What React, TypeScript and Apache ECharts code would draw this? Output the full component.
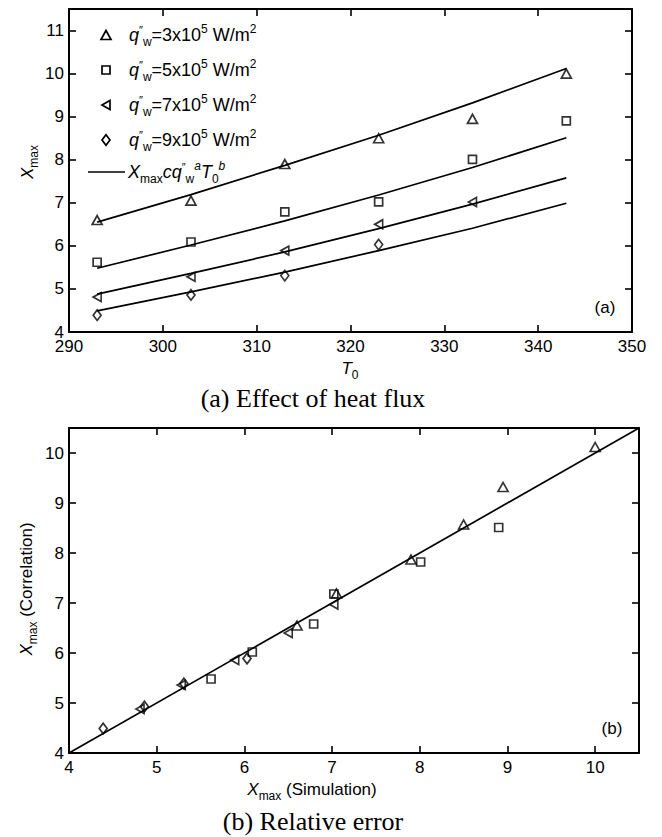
import React, { useEffect, useRef } from "react";
import * as echarts from "echarts";

// ---------- data ----------
const T0 = [293, 303, 313, 323, 333, 343];
// simulated X_max (markers)
const q3Sim = [6.6, 7.05, 7.9, 8.5, 8.95, 10.0];
const q5Sim = [5.62, 6.09, 6.79, 7.02, 8.01, 8.9];
const q7Sim = [4.81, 5.28, 5.89, 6.5, 7.02];
const q9Sim = [4.39, 4.86, 5.31, 6.03];
// correlation X_max = c q''w^a T0^b (lines)
const q3Fit = [6.55, 7.19, 7.87, 8.57, 9.32, 10.12];
const q5Fit = [5.48, 6.02, 6.58, 7.18, 7.82, 8.51];
const q7Fit = [4.88, 5.36, 5.86, 6.4, 6.97, 7.58];
const q9Fit = [4.49, 4.93, 5.39, 5.89, 6.41, 6.99];
const heatFlux = ["3", "5", "7", "9"];
const diagonal = [4, 10.5];

const SANS = "'Liberation Sans', Arial, Helvetica, sans-serif";
const SERIF = "'Liberation Serif', 'Times New Roman', serif";

const markers = [
  { symbol: "triangle", size: [10, 9], rotate: 0 },
  { symbol: "rect", size: [8, 8], rotate: 0 },
  { symbol: "triangle", size: [9, 8], rotate: 90 },
  { symbol: "diamond", size: [8, 10.5], rotate: 0 },
];

const simSets = [q3Sim, q5Sim, q7Sim, q9Sim];
const fitSets = [q3Fit, q5Fit, q7Fit, q9Fit];
const STROKE = 1.7;

function richStyles(main: number, small: number) {
  return {
    n: { fontSize: main, fontFamily: SANS, fill: "#000" },
    i: { fontSize: main, fontFamily: SANS, fontStyle: "italic", fill: "#000" },
    sub: { fontSize: small, fontFamily: SANS, fill: "#000", padding: [14, 0, 0, 0] },
    sup: { fontSize: small, fontFamily: SANS, fill: "#000", padding: [0, 0, 12, 0] },
    supi: { fontSize: small, fontFamily: SANS, fontStyle: "italic", fill: "#000", padding: [0, 0, 12, 0] },
    pr: { fontSize: small - 1, fontFamily: SANS, fill: "#000", padding: [0, 0, 10, 0] },
  };
}

function txt(x: number, y: number, text: string, opts: any = {}) {
  return {
    type: "text",
    x,
    y,
    rotation: opts.rotation || 0,
    silent: true,
    style: {
      text,
      x: 0,
      y: 0,
      fill: "#000",
      fontSize: opts.fontSize || 17,
      fontFamily: opts.fontFamily || SANS,
      align: opts.align || "center",
      verticalAlign: "middle",
      textAlign: opts.align || "center",
      textVerticalAlign: "middle",
      rich: opts.rich,
    },
  };
}

function legendMarker(kind: number, cx: number, cy: number) {
  const st = { fill: "none", stroke: "#000", lineWidth: STROKE };
  const [w, h] = markers[kind].size;
  if (kind === 0)
    return { type: "polygon", silent: true, shape: { points: [[cx, cy - h / 2], [cx - w / 2, cy + h / 2], [cx + w / 2, cy + h / 2]] }, style: st };
  if (kind === 1)
    return { type: "rect", silent: true, shape: { x: cx - w / 2, y: cy - h / 2, width: w, height: h }, style: st };
  if (kind === 2)
    return { type: "polygon", silent: true, shape: { points: [[cx - h / 2, cy], [cx + h / 2, cy - w / 2], [cx + h / 2, cy + w / 2]] }, style: st };
  return { type: "polygon", silent: true, shape: { points: [[cx, cy - h / 2], [cx + w / 2, cy], [cx, cy + h / 2], [cx - w / 2, cy]] }, style: st };
}

const axisCommon = {
  type: "value",
  axisLine: { show: true, onZero: false, lineStyle: { color: "#000", width: 2 } },
  axisTick: { show: true, inside: true, length: 7, lineStyle: { color: "#000", width: 1.6 } },
  splitLine: { show: false },
};
const labelOnX = {
  show: true,
  color: "#000",
  fontSize: 17,
  fontFamily: SANS,
  margin: 6,
  formatter: (v: number) => (Number.isInteger(v) ? String(v) : ""),
};
const labelOnY = { ...labelOnX, margin: 5 };
const labelOff = { show: false };

function buildOption() {
  const series: any[] = [];
  fitSets.forEach((fit) => {
    series.push({
      type: "line",
      xAxisIndex: 0,
      yAxisIndex: 0,
      data: fit.map((v, i) => [T0[i], v]),
      symbol: "none",
      showSymbol: false,
      silent: true,
      lineStyle: { color: "#000", width: 1.7 },
      z: 2,
    });
  });
  simSets.forEach((sim, k) => {
    series.push({
      type: "scatter",
      xAxisIndex: 0,
      yAxisIndex: 0,
      data: sim.map((v, i) => [T0[i], v]),
      symbol: markers[k].symbol,
      symbolSize: markers[k].size,
      symbolRotate: markers[k].rotate,
      itemStyle: { color: "rgba(0,0,0,0)", borderColor: "#000", borderWidth: STROKE },
      silent: true,
      z: 3,
    });
  });
  series.push({
    type: "line",
    xAxisIndex: 2,
    yAxisIndex: 2,
    data: diagonal.map((v) => [v, v]),
    symbol: "none",
    showSymbol: false,
    silent: true,
    lineStyle: { color: "#000", width: 1.7 },
    z: 2,
  });
  simSets.forEach((sim, k) => {
    series.push({
      type: "scatter",
      xAxisIndex: 2,
      yAxisIndex: 2,
      data: sim.map((v, i) => [v, fitSets[k][i]]),
      symbol: markers[k].symbol,
      symbolSize: markers[k].size,
      symbolRotate: markers[k].rotate,
      itemStyle: { color: "rgba(0,0,0,0)", borderColor: "#000", borderWidth: STROKE },
      silent: true,
      z: 3,
    });
  });

  const legRich = richStyles(18, 12);
  const axRich = richStyles(17, 12);
  const rowsY = [35, 70, 105, 140];
  const graphic: any[] = [];
  heatFlux.forEach((q, k) => {
    graphic.push(legendMarker(k, 106, rowsY[k]));
    graphic.push(
      txt(129, rowsY[k], `{i|q}{pr|″}{sub|w}{n|=${q}x10}{sup|5}{n| W/m}{sup|2}`, { align: "left", rich: legRich })
    );
  });
  graphic.push({ type: "line", silent: true, shape: { x1: 88, y1: 172, x2: 125, y2: 172 }, style: { stroke: "#000", lineWidth: 1.7 } });
  graphic.push(txt(128, 172, `{i|X}{sub|max}{i|cq}{pr|″}{sub|w}{supi|a}{i|T}{sub|0}{supi|b}`, { align: "left", rich: legRich }));

  // axis titles
  graphic.push(txt(27, 162, `{i|X}{sub|max}`, { rotation: Math.PI / 2, rich: axRich }));
  graphic.push(txt(350, 368, `{i|T}{sub|0}`, { rich: axRich }));
  graphic.push(txt(26, 589, `{i|X}{sub|max}{n| (Correlation)}`, { rotation: Math.PI / 2, rich: axRich }));
  graphic.push(txt(312, 789, `{i|X}{sub|max}{n| (Simulation)}`, { rich: axRich }));
  // panel tags
  graphic.push(txt(605, 307, "(a)", { fontSize: 17 }));
  graphic.push(txt(612, 728, "(b)", { fontSize: 17 }));
  // captions
  graphic.push(txt(313, 398, "(a) Effect of heat flux", { fontSize: 26, fontFamily: SERIF }));
  graphic.push(txt(313, 821, "(b) Relative error", { fontSize: 26, fontFamily: SERIF }));

  return {
    animation: false,
    backgroundColor: "#fff",
    grid: [
      { left: 69, top: 9, width: 563, height: 323, containLabel: false },
      { left: 69, top: 428, width: 570, height: 325, containLabel: false },
    ],
    xAxis: [
      { ...axisCommon, gridIndex: 0, position: "bottom", min: 290, max: 350, interval: 10, axisLabel: labelOnX },
      { ...axisCommon, gridIndex: 0, position: "top", min: 290, max: 350, interval: 10, axisLabel: labelOff },
      { ...axisCommon, gridIndex: 1, position: "bottom", min: 4, max: 10.5, interval: 1, axisLabel: labelOnX },
      { ...axisCommon, gridIndex: 1, position: "top", min: 4, max: 10.5, interval: 1, axisLabel: labelOff },
    ],
    yAxis: [
      { ...axisCommon, gridIndex: 0, position: "left", min: 4, max: 11.5, interval: 1, axisLabel: labelOnY },
      { ...axisCommon, gridIndex: 0, position: "right", min: 4, max: 11.5, interval: 1, axisLabel: labelOff },
      { ...axisCommon, gridIndex: 1, position: "left", min: 4, max: 10.5, interval: 1, axisLabel: labelOnY },
      { ...axisCommon, gridIndex: 1, position: "right", min: 4, max: 10.5, interval: 1, axisLabel: labelOff },
    ],
    series,
    graphic,
  };
}

export default function App() {
  const ref = useRef<HTMLDivElement>(null);
  useEffect(() => {
    const chart = echarts.init(ref.current as HTMLDivElement, null, { renderer: "svg", width: 662, height: 837 });
    chart.setOption(buildOption() as any);
    return () => chart.dispose();
  }, []);
  return (
    <div
      ref={ref}
      style={{ position: "absolute", left: 0, top: 0, width: 662, height: 837, background: "#fff" }}
    />
  );
}
